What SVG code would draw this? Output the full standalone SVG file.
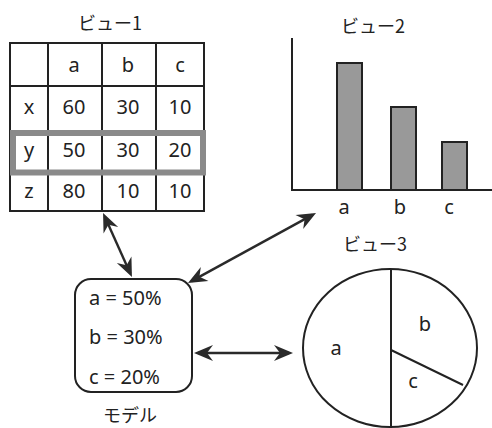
<svg xmlns="http://www.w3.org/2000/svg" width="492" height="428" viewBox="0 0 492 428">
<style>
.t{font-family:"Noto Sans","Noto Sans CJK JP",sans-serif;fill:#222;text-anchor:middle}
.ti{font-family:"Noto Sans CJK JP",sans-serif;font-size:18px;fill:#222;text-anchor:middle}
.v{font-size:20px}
.ln{stroke:#222;stroke-width:2;fill:none}
.bar{fill:#999;stroke:#222;stroke-width:2}
.con{stroke:#2a2a2a;stroke-width:2.4;fill:none;marker-start:url(#ah);marker-end:url(#ah)}
</style>
<defs>
<marker id="ah" viewBox="-17 -9 22 18" refX="0" refY="0" markerWidth="22" markerHeight="18" markerUnits="userSpaceOnUse" orient="auto-start-reverse">
<path d="M4,0 L-15,-8 L-9,0 L-15,8 Z" fill="#2a2a2a"/>
</marker>
</defs>
<rect width="492" height="428" fill="#fff"/>
<g id="view1">
<text class="ti" x="110" y="30">ビュー1</text>
<rect class="ln" x="10" y="43" width="194" height="168"/>
<line class="ln" x1="48" y1="43" x2="48" y2="211"/>
<line class="ln" x1="102" y1="43" x2="102" y2="211"/>
<line class="ln" x1="156" y1="43" x2="156" y2="211"/>
<line class="ln" x1="10" y1="86" x2="204" y2="86"/>
<line class="ln" x1="10" y1="131" x2="204" y2="131"/>
<line class="ln" x1="10" y1="174" x2="204" y2="174"/>
<rect x="13" y="133" width="190" height="39.5" fill="none" stroke="#8a8a8a" stroke-width="6"/>
<g class="t v">
<text x="74" y="72">a</text><text x="128" y="72">b</text><text x="180" y="72">c</text>
<text x="29" y="114">x</text><text x="74" y="114">60</text><text x="128" y="114">30</text><text x="180" y="114">10</text>
<text x="29" y="157">y</text><text x="74" y="157">50</text><text x="128" y="157">30</text><text x="180" y="157">20</text>
<text x="29" y="198">z</text><text x="74" y="198">80</text><text x="128" y="198">10</text><text x="180" y="198">10</text>
</g>
</g>
<g id="view2">
<text class="ti" x="373" y="33">ビュー2</text>
<rect class="bar" x="337" y="63" width="25" height="127"/>
<rect class="bar" x="391" y="107" width="25" height="83"/>
<rect class="bar" x="442" y="142" width="25" height="48"/>
<polyline class="ln" points="292,38 292,190 492,190"/>
<g class="t v">
<text x="344" y="214">a</text><text x="400" y="214">b</text><text x="449" y="214">c</text>
</g>
</g>
<g id="view3">
<text class="ti" x="375" y="251">ビュー3</text>
<ellipse class="ln" cx="390" cy="348" rx="87" ry="79"/>
<line class="ln" x1="391" y1="269" x2="391" y2="428"/>
<line class="ln" x1="391" y1="350" x2="463" y2="385"/>
<g class="t v">
<text x="336" y="355">a</text><text x="425" y="331">b</text><text x="413" y="388">c</text>
</g>
</g>
<g id="model">
<rect class="ln" x="75" y="279" width="117" height="113" rx="16"/>
<g class="t v" style="text-anchor:start">
<text x="89" y="305">a = 50%</text>
<text x="89" y="344">b =  30%</text>
<text x="89" y="384">c = 20%</text>
</g>
<text class="ti" x="130" y="422">モデル</text>
</g>
<g id="connectors">
<line class="con" x1="104.7" y1="216.6" x2="130.3" y2="273.4"/>
<line class="con" x1="191.5" y1="281.1" x2="312.5" y2="214.9"/>
<line class="con" x1="198" y1="353" x2="289" y2="353"/>
</g>
</svg>
